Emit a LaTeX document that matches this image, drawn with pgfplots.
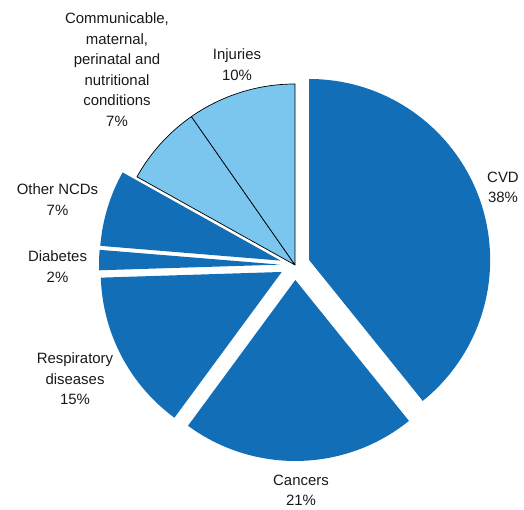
\documentclass[border=0pt]{standalone}
\usepackage{pgfplots}
\pgfplotsset{compat=1.18}
\usepackage{pgfplotstable}
\usepackage{fontspec}
\setmainfont{Liberation Sans}

\definecolor{darkblue}{RGB}{18,110,183}
\definecolor{lightblue}{RGB}{122,198,238}

% share of deaths (%), as drawn by the wedges; 1 = slice pulled out
\pgfplotstableread{
value explode
39.2 1
20.9 1
14.4 1
1.8  1
6.8  1
7.2  0
9.7  0
}\piedata

\def\cx{295}
\def\cy{245}
\def\rad{181}
\def\gap{15}

\tikzset{lbl/.style={align=center, font=\fontsize{15}{20.6}\selectfont, text=black!90, inner sep=0pt}}

\begin{document}
\begin{tikzpicture}
\pgfplotstablegetrowsof{\piedata}
\pgfmathtruncatemacro\lastrow{\pgfplotsretval-1}
\gdef\cum{0}
\foreach \i in {0,...,\lastrow}{
  \pgfplotstablegetelem{\i}{value}\of\piedata
  \pgfmathsetmacro\v{\pgfplotsretval}
  \pgfplotstablegetelem{\i}{explode}\of\piedata
  \pgfmathtruncatemacro\e{\pgfplotsretval}
  \pgfmathsetmacro\a{90-3.6*\cum}
  \pgfmathsetmacro\b{90-3.6*(\cum+\v)}
  \pgfmathsetmacro\m{(\a+\b)/2}
  \pgfmathsetmacro\ox{\cx+\gap*\e*cos(\m)}
  \pgfmathsetmacro\oy{\cy+\gap*\e*sin(\m)}
  \expandafter\xdef\csname pa\i\endcsname{\a}
  \expandafter\xdef\csname pb\i\endcsname{\b}
  \expandafter\xdef\csname px\i\endcsname{\ox}
  \expandafter\xdef\csname py\i\endcsname{\oy}
  \expandafter\xdef\csname pe\i\endcsname{\e}
  \pgfmathsetmacro\c{\cum+\v}
  \xdef\cum{\c}
}
\begin{axis}[
  scale only axis, width=524bp, height=510bp,
  xmin=0, xmax=524, ymin=0, ymax=510,
  hide axis, clip=false,
]
\path (axis cs:0,0) rectangle (axis cs:524,510);
\pgfplotsinvokeforeach{0,...,6}{
  \ifnum\csname pe#1\endcsname=1
    \fill[darkblue] (axis cs:\csname px#1\endcsname,\csname py#1\endcsname)
      -- ++(\csname pa#1\endcsname:\rad bp)
      arc[start angle=\csname pa#1\endcsname, end angle=\csname pb#1\endcsname, radius=\rad bp] -- cycle;
  \else
    \filldraw[fill=lightblue, draw=black, line width=0.7bp, line join=round]
      (axis cs:\csname px#1\endcsname,\csname py#1\endcsname)
      -- ++(\csname pa#1\endcsname:\rad bp)
      arc[start angle=\csname pa#1\endcsname, end angle=\csname pb#1\endcsname, radius=\rad bp] -- cycle;
  \fi
}
\node[lbl] at (axis cs:503,322.5) {CVD\\38\%};
\node[lbl] at (axis cs:301,19.5) {Cancers\\21\%};
\node[lbl] at (axis cs:75,131) {Respiratory\\diseases\\15\%};
\node[lbl] at (axis cs:57.5,243.5) {Diabetes\\2\%};
\node[lbl] at (axis cs:57.5,310.5) {Other NCDs\\7\%};
\node[lbl] at (axis cs:117,440.5) {Communicable,\\maternal,\\perinatal and\\nutritional\\conditions\\7\%};
\node[lbl] at (axis cs:237,445.5) {Injuries\\10\%};
\end{axis}
\end{tikzpicture}
\end{document}
